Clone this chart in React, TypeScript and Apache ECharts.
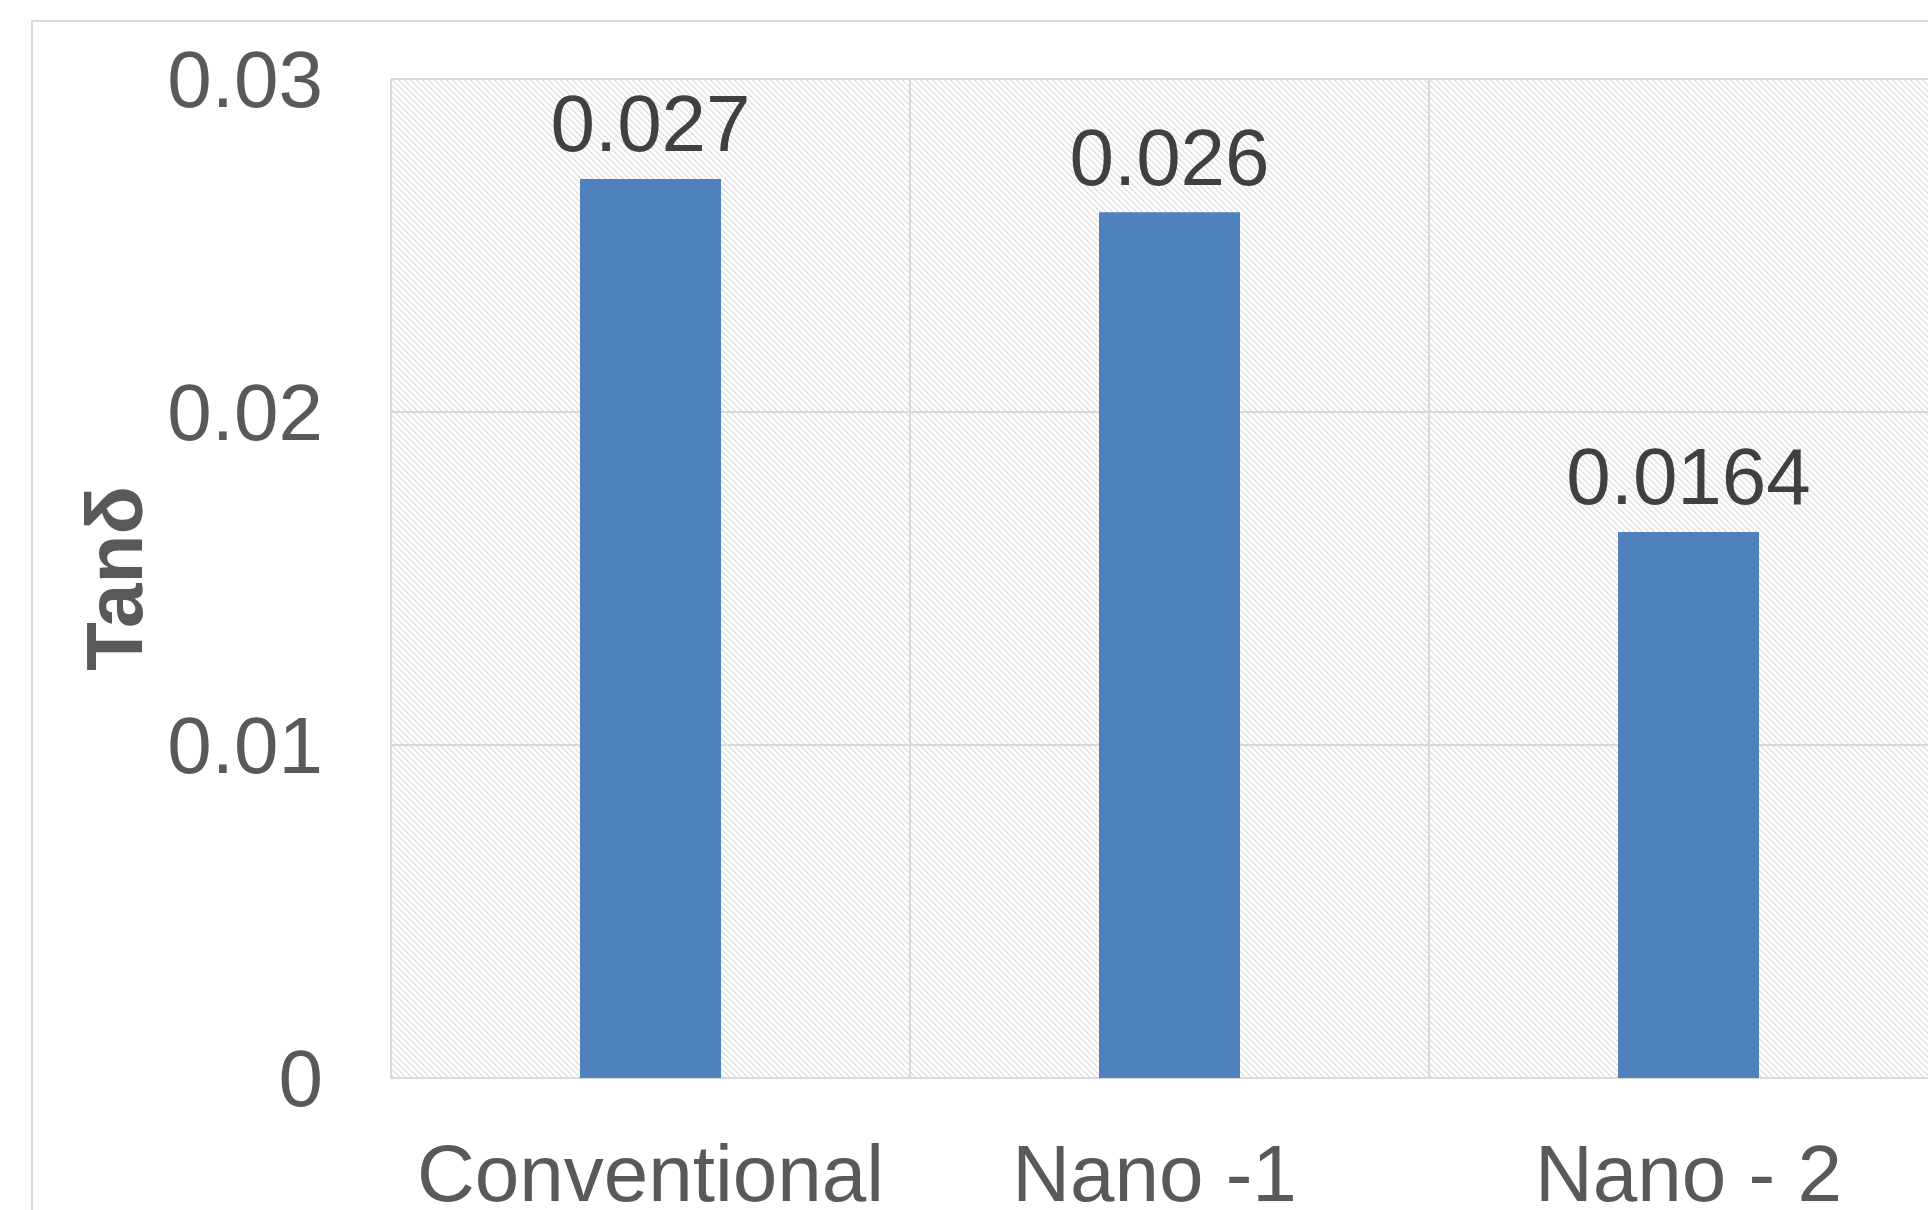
import { useEffect, useRef } from "react";
import * as echarts from "echarts";

// Dielectric loss tangent of each sample
const categories = ["Conventional", "Nano -1", "Nano - 2"];
const tanDelta = [0.027, 0.026, 0.0164];
const yTicks = [0, 0.01, 0.02, 0.03];

const FONT = "'Liberation Sans', Arial, sans-serif";

// Small repeating tile of light grey downward diagonal stripes for the plot area
function hatchTile(): HTMLCanvasElement {
  const size = 6;
  const c = document.createElement("canvas");
  c.width = size;
  c.height = size;
  const ctx = c.getContext("2d")!;
  ctx.fillStyle = "#ffffff";
  ctx.fillRect(0, 0, size, size);
  ctx.fillStyle = "#e2e2e2";
  for (let y = 0; y < size; y++) {
    for (let x = 0; x < size; x++) {
      const d = (((x - y) % size) + size) % size;
      if (d < 2) ctx.fillRect(x, y, 1, 1);
    }
  }
  return c;
}

export default function App() {
  const ref = useRef<HTMLDivElement>(null);

  useEffect(() => {
    if (!ref.current) return;
    const chart = echarts.init(ref.current, undefined, { renderer: "svg" });
    // "Nano -1" carries a little right padding so it sits slightly left of centre
    const categoryItems = categories.map((name) =>
      name === "Nano -1"
        ? { value: name, textStyle: { padding: [0, 30, 0, 0] } }
        : name
    );
    chart.setOption({
      animation: false,
      backgroundColor: "transparent",
      grid: {
        show: true,
        left: 391,
        top: 79,
        width: 1557,
        height: 999,
        borderWidth: 0,
        backgroundColor: { image: hatchTile(), repeat: "repeat" },
        containLabel: false,
        outerBoundsMode: "none",
      },
      xAxis: {
        type: "category",
        data: categoryItems,
        boundaryGap: true,
        axisLine: { show: true, lineStyle: { color: "#d9d9d9", width: 2 } },
        axisTick: { show: false },
        splitLine: { show: true, interval: 0, lineStyle: { color: "#d9d9d9", width: 2 } },
        axisLabel: {
          interval: 0,
          margin: 55,
          color: "#595959",
          fontFamily: FONT,
          fontSize: 80,
        },
      },
      yAxis: {
        type: "value",
        min: yTicks[0],
        max: yTicks[yTicks.length - 1],
        interval: 0.01,
        name: "Tanδ",
        nameLocation: "middle",
        nameGap: 237,
        nameTextStyle: {
          color: "#595959",
          fontFamily: FONT,
          fontSize: 80,
          fontWeight: "bold",
        },
        axisLine: { show: false },
        axisTick: { show: false },
        splitLine: { show: true, lineStyle: { color: "#d9d9d9", width: 2 } },
        axisLabel: {
          margin: 68,
          color: "#595959",
          fontFamily: FONT,
          fontSize: 80,
        },
      },
      series: [
        {
          type: "bar",
          data: tanDelta,
          barWidth: 141,
          itemStyle: { color: "#4f81bd" },
          label: {
            show: true,
            position: "top",
            distance: 15,
            color: "#404040",
            fontFamily: FONT,
            fontSize: 80,
            formatter: (p: any) => String(p.value),
          },
        },
      ],
    });
    return () => chart.dispose();
  }, []);

  return (
    <div
      style={{
        position: "fixed",
        left: 0,
        top: 0,
        width: 1928,
        height: 1210,
        overflow: "hidden",
        background: "#ffffff",
      }}
    >
      <div
        style={{
          position: "absolute",
          left: 31,
          top: 20,
          width: 2100,
          height: 1400,
          border: "2px solid #d9d9d9",
          boxSizing: "border-box",
        }}
      />
      <div
        ref={ref}
        style={{ position: "absolute", left: 0, top: 0, width: 2000, height: 1260 }}
      />
    </div>
  );
}
